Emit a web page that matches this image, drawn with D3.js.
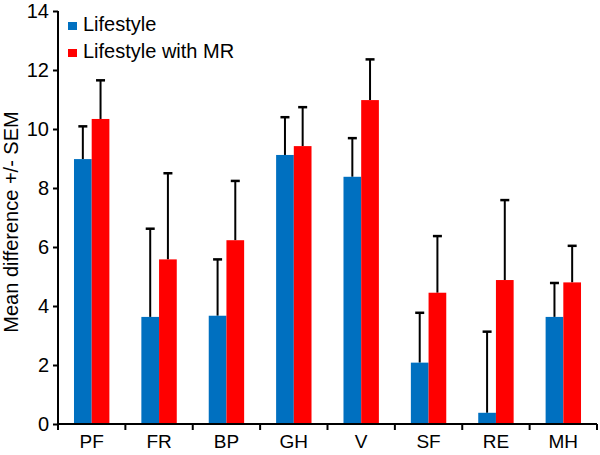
<!DOCTYPE html>
<html>
<head>
<meta charset="utf-8">
<script src="https://cdn.jsdelivr.net/npm/d3@7"></script>
<style>
  body { margin: 0; background: #fff; }
  svg text { font-family: "Liberation Sans", Arial, sans-serif; fill: #000; }
</style>
</head>
<body>
<svg id="chart" width="600" height="455"></svg>
<script>
const categories = ["PF", "FR", "BP", "GH", "V", "SF", "RE", "MH"];
const seriesNames = ["Lifestyle", "Lifestyle with MR"];
const lifestyle = [8.98, 3.63, 3.67, 9.12, 8.38, 2.08, 0.38, 3.63];
const lifestyleSem = [1.11, 2.99, 1.91, 1.28, 1.31, 1.69, 2.75, 1.15];
const withMR = [10.34, 5.58, 6.23, 9.42, 10.98, 4.45, 4.88, 4.80];
const withMRSem = [1.31, 2.92, 2.01, 1.32, 1.38, 1.92, 2.71, 1.24];
const yTicks = [0, 2, 4, 6, 8, 10, 12, 14];
const colors = ["#0070c0", "#ff0000"];

const svg = d3.select("#chart");
const margin = { left: 58, right: 3, top: 11, bottom: 31 };
const width = 600, height = 455;

const x = d3.scaleBand()
    .domain(categories)
    .range([margin.left, width - margin.right])
    .paddingInner(0)
    .paddingOuter(0);

const barW = 17.7;
const y = d3.scaleLinear()
    .domain([0, 14])
    .range([height - margin.bottom, margin.top]);

const series = [
    { name: seriesNames[0], values: lifestyle, sem: lifestyleSem },
    { name: seriesNames[1], values: withMR, sem: withMRSem }
];

const groups = series.map((s, si) => categories.map((c, i) => ({
    cat: c, value: s.values[i], sem: s.sem[i], si: si
}))).flat();

const barX = d => x(d.cat) + x.bandwidth() / 2 - barW + d.si * barW;

// error bars (drawn first so bars overlap the bottom)
const err = svg.append("g").attr("class", "errors");
err.selectAll("line.stem")
    .data(groups)
    .enter()
    .append("line")
    .attr("x1", d => barX(d) + barW / 2)
    .attr("x2", d => barX(d) + barW / 2)
    .attr("y1", d => y(d.value))
    .attr("y2", d => y(d.value + d.sem))
    .attr("stroke", "#000")
    .attr("stroke-width", 2);
err.selectAll("line.cap")
    .data(groups)
    .enter()
    .append("line")
    .attr("x1", d => barX(d) + barW / 2 - 4.5)
    .attr("x2", d => barX(d) + barW / 2 + 4.5)
    .attr("y1", d => y(d.value + d.sem))
    .attr("y2", d => y(d.value + d.sem))
    .attr("stroke", "#000")
    .attr("stroke-width", 2.5);

svg.append("g").selectAll("rect")
    .data(groups)
    .enter()
    .append("rect")
    .attr("x", barX)
    .attr("width", barW)
    .attr("y", d => y(d.value))
    .attr("height", d => y(0) - y(d.value))
    .attr("fill", d => colors[d.si]);

// y axis
const yAxis = svg.append("g")
    .attr("transform", `translate(${margin.left},0)`)
    .call(d3.axisLeft(y).tickValues(yTicks).tickSize(5).tickPadding(4));
yAxis.select(".domain").attr("stroke-width", 2).attr("d", `M-0,${y(14)}V${y(0)}`);
yAxis.selectAll(".tick line").attr("stroke-width", 2);
yAxis.selectAll("text").style("font-size", "20px");

// x axis, ticks sit at category boundaries
const xAxis = svg.append("g")
    .attr("transform", `translate(0,${y(0)})`)
    .call(d3.axisBottom(x).tickSize(0).tickPadding(11));
xAxis.select(".domain").attr("stroke-width", 2).attr("d", `M${margin.left},0H${width - margin.right}`);
xAxis.selectAll("text").style("font-size", "19px");
const bounds = categories.map(c => x(c)).concat([x(categories[categories.length - 1]) + x.bandwidth()]);
xAxis.selectAll("line.bound")
    .data(bounds)
    .enter()
    .append("line")
    .attr("x1", d => d).attr("x2", d => d)
    .attr("y1", 0).attr("y2", 6)
    .attr("stroke", "#000")
    .attr("stroke-width", 2);

// y title
svg.append("text")
    .attr("transform", "translate(18,222) rotate(-90)")
    .style("text-anchor", "middle")
    .style("font-size", "20px")
    .text("Mean difference +/- SEM");

// legend
const legend = svg.append("g").selectAll("g")
    .data(seriesNames)
    .enter()
    .append("g")
    .attr("transform", (d, i) => `translate(68,${22 + i * 27})`);
legend.append("rect")
    .attr("width", 9).attr("height", 8)
    .attr("fill", (d, i) => colors[i]);
legend.append("text")
    .attr("x", 15)
    .attr("y", 9)
    .style("font-size", "20px")
    .text(d => d);
</script>
</body>
</html>
